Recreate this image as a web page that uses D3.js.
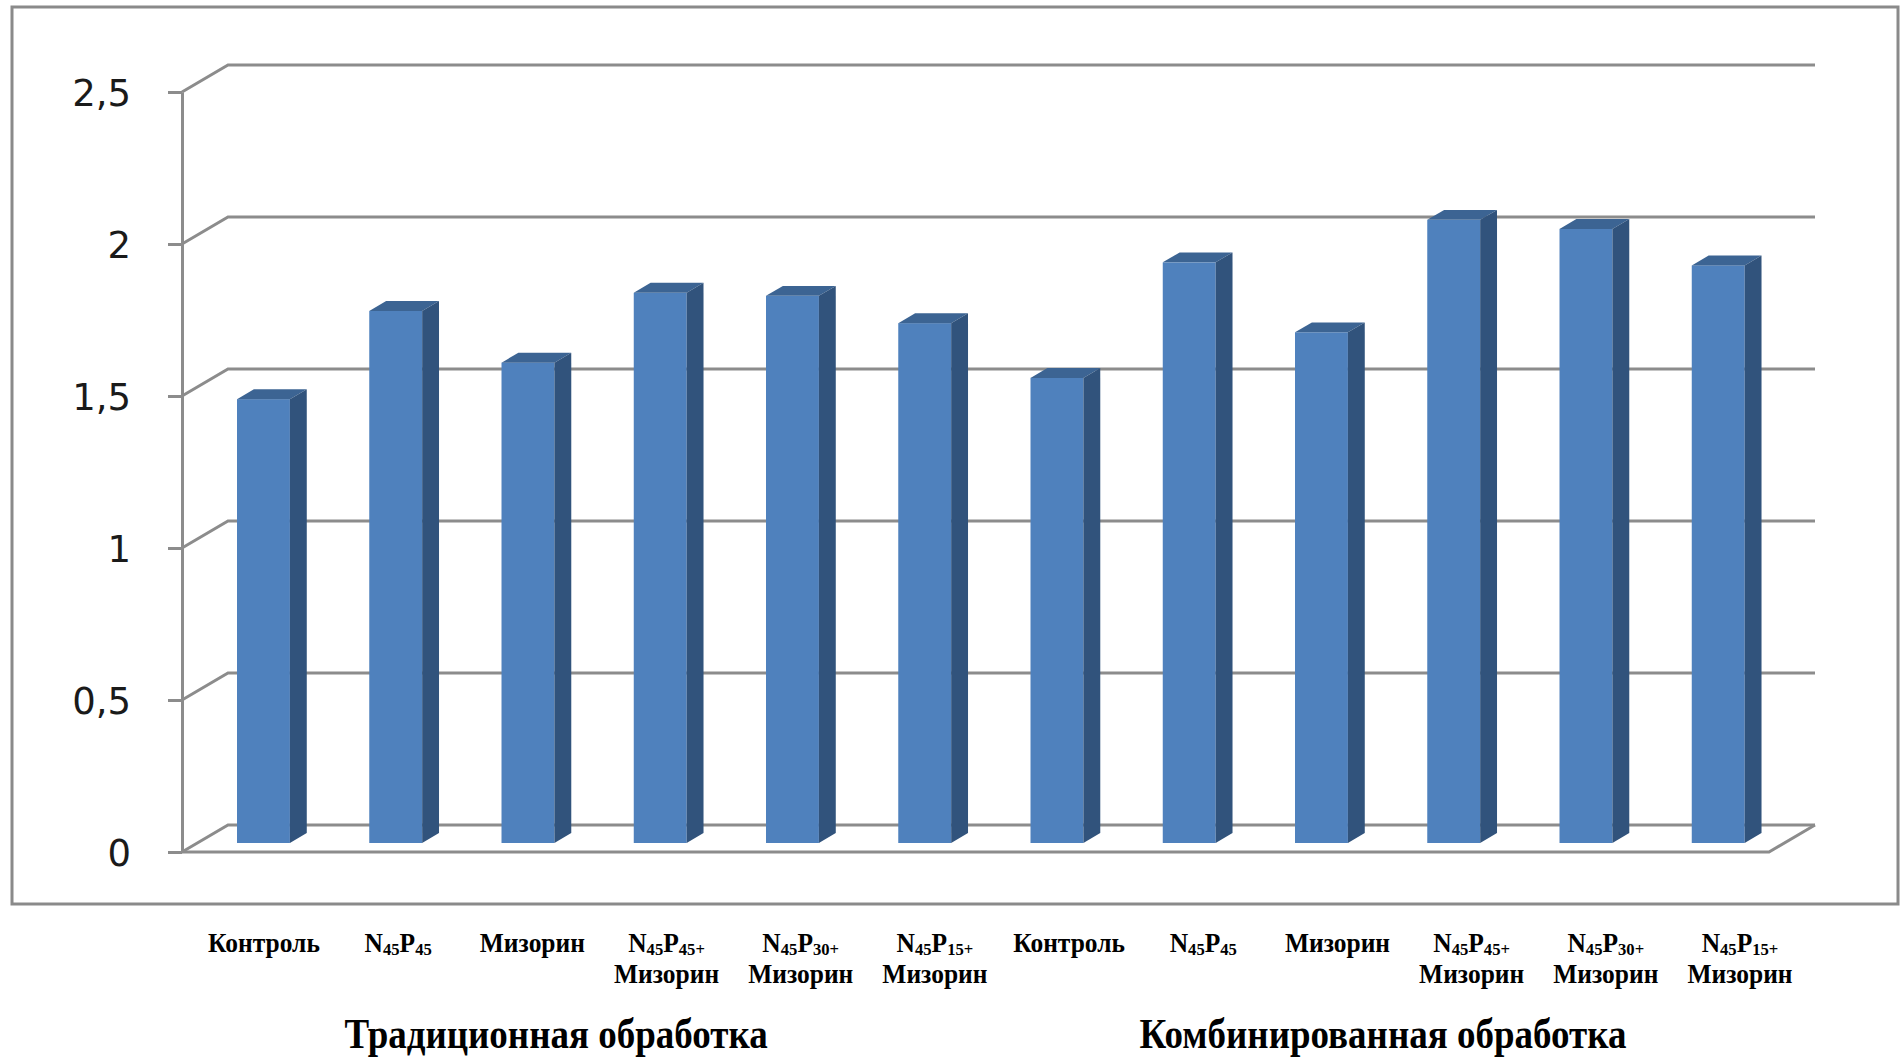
<!DOCTYPE html>
<html>
<head>
<meta charset="utf-8">
<script src="https://cdn.jsdelivr.net/npm/d3@7"></script>
<style>
  html, body { margin: 0; padding: 0; background: #ffffff; }
  svg { display: block; }
</style>
</head>
<body>
<svg id="chart" width="1901" height="1059"></svg>
<script>
// Category labels: "_{...}" marks a subscript, "|" starts a second line
const categories = [
  "Контроль", "N_{45}P_{45}", "Мизорин",
  "N_{45}P_{45+}|Мизорин", "N_{45}P_{30+}|Мизорин", "N_{45}P_{15+}|Мизорин",
  "Контроль", "N_{45}P_{45}", "Мизорин",
  "N_{45}P_{45+}|Мизорин", "N_{45}P_{30+}|Мизорин", "N_{45}P_{15+}|Мизорин"
];
const values = [1.46, 1.75, 1.58, 1.81, 1.80, 1.71, 1.53, 1.91, 1.68, 2.05, 2.02, 1.90];
const groups = ["Традиционная обработка", "Комбинированная обработка"];
const yTicks = [0, 0.5, 1, 1.5, 2, 2.5];

const svg = d3.select("#chart");

// Oblique 3-D projection: depth 0 = front plane, depth 1 = back wall
const DEPTH_X = 46, DEPTH_Y = -27;
const y = d3.scaleLinear().domain([0, 2.5]).range([852, 92]);
const x = d3.scaleBand().domain(d3.range(categories.length))
  .range([182, 1769]).paddingInner(0.6).paddingOuter(0.3);
const proj = (px, v, d) => [px + d * DEPTH_X, y(v) + d * DEPTH_Y];

const gridColor = "#8c8c8c";

// Outer chart frame
svg.append("rect")
  .attr("x", 12).attr("y", 7).attr("width", 1886).attr("height", 897)
  .attr("fill", "none").attr("stroke", "#8a8a8a").attr("stroke-width", 3);

// Side wall diagonals + back wall gridlines
const [x0, x1] = x.range();
svg.append("g").selectAll("path").data(yTicks).join("path")
  .attr("d", t => {
    const a = proj(x0, t, 0), b = proj(x0, t, 1), c = proj(x1, t, 1);
    return `M${a}L${b}L${c}`;
  })
  .attr("fill", "none").attr("stroke", gridColor).attr("stroke-width", 3);

// Floor front edge and right edge
{
  const a = proj(x0, 0, 0), b = proj(x1, 0, 0), c = proj(x1, 0, 1);
  svg.append("path").attr("d", `M${a}L${b}L${c}`)
    .attr("fill", "none").attr("stroke", gridColor).attr("stroke-width", 3);
}

// Value axis
const fmt = d3.formatLocale({ decimal: ",", thousands: "\u00a0", grouping: [3], currency: ["", ""] }).format("~f");
const yAxis = svg.append("g")
  .attr("transform", `translate(${x0},0)`)
  .call(d3.axisLeft(y).tickValues(yTicks).tickFormat(fmt).tickSize(14).tickSizeOuter(0).tickPadding(37));
yAxis.select(".domain").attr("stroke", gridColor).attr("stroke-width", 3);
yAxis.selectAll(".tick line").attr("stroke", gridColor).attr("stroke-width", 3);
yAxis.selectAll(".tick text")
  .attr("font-family", "'DejaVu Sans', Verdana, sans-serif")
  .attr("font-size", 37).attr("fill", "#1a1a1a").attr("dy", "0.36em");

// 3-D bars
const dFront = 1 / 3, dBack = 0.70, dd = dBack - dFront;
const bw = x.bandwidth();
const bars = svg.append("g").selectAll("g").data(values).join("g");
bars.append("rect")
  .attr("x", (v, i) => proj(x(i), v, dFront)[0])
  .attr("y", (v, i) => proj(x(i), v, dFront)[1])
  .attr("width", bw)
  .attr("height", v => y(0) - y(v))
  .attr("fill", "#4f81bd");
bars.append("path")
  .attr("d", (v, i) => {
    const [fx, fy] = proj(x(i), v, dFront);
    const ox = dd * DEPTH_X, oy = dd * DEPTH_Y;
    return `M${fx},${fy}L${fx + bw},${fy}L${fx + bw + ox},${fy + oy}L${fx + ox},${fy + oy}Z`;
  })
  .attr("fill", "#3c6493");
bars.append("path")
  .attr("d", (v, i) => {
    const [fx, fy] = proj(x(i), v, dFront);
    const [, by] = proj(x(i), 0, dFront);
    const ox = dd * DEPTH_X, oy = dd * DEPTH_Y;
    return `M${fx + bw},${fy}L${fx + bw + ox},${fy + oy}L${fx + bw + ox},${by + oy}L${fx + bw},${by}Z`;
  })
  .attr("fill", "#31537c");

// Category labels under the chart (narrow serif lettering)
const labelX = d3.scalePoint().domain(d3.range(categories.length)).range([264, 1740]);
const labels = svg.append("g")
  .attr("font-family", "'Liberation Serif', 'Times New Roman', serif")
  .attr("font-weight", "bold").attr("fill", "#000");

function addRich(textSel, str) {
  const parts = str.split(/(_\{[^}]*\})/).filter(s => s.length);
  let sub = false;
  parts.forEach(p => {
    const m = p.match(/^_\{([^}]*)\}$/);
    if (m) {
      textSel.append("tspan").attr("font-size", 17).attr("dy", sub ? 0 : 3).text(m[1]);
      sub = true;
    } else {
      textSel.append("tspan").attr("font-size", 26).attr("dy", sub ? -3 : 0).text(p);
      sub = false;
    }
  });
}

categories.forEach((c, i) => {
  c.split("|").forEach((line, k) => {
    const t = labels.append("text")
      .attr("transform", `translate(${labelX(i)},${952 + k * 31}) scale(0.98,1.04)`)
      .attr("text-anchor", "middle");
    addRich(t, line);
  });
});

// Group titles
const groupX = d3.scalePoint().domain(groups).range([556, 1383]);
labels.selectAll("text.group").data(groups).join("text")
  .attr("class", "group")
  .attr("transform", g => `translate(${groupX(g)},1048) scale(1,1.14)`)
  .attr("text-anchor", "middle").attr("font-size", 37)
  .text(g => g);
</script>
</body>
</html>
